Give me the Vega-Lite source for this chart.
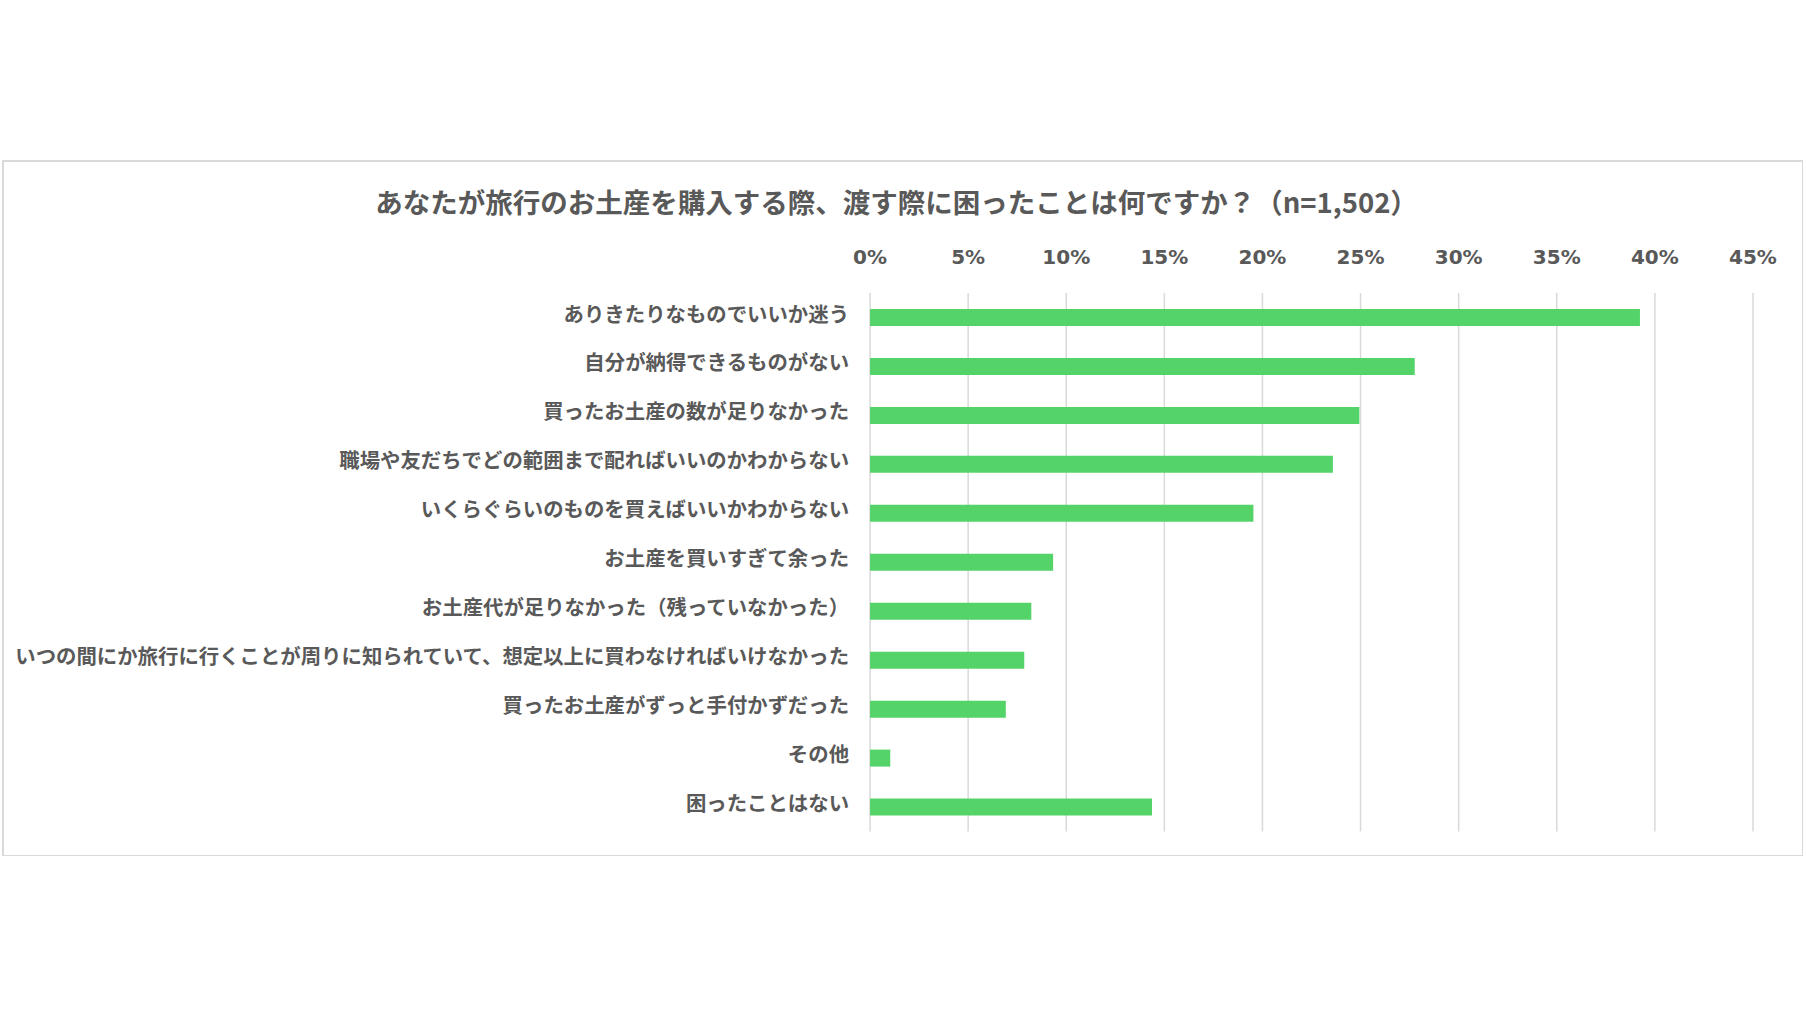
{
  "$schema": "https://vega.github.io/schema/vega-lite/v6.json",
  "autosize": {"type": "none"},
  "padding": {"left": 3, "top": 161, "right": 0, "bottom": 0},
  "width": 1800,
  "height": 695,
  "background": "white",
  "datasets": {
    "items": [
      {"label": "ありきたりなものでいいか迷う", "rank": 1, "pct": 0.3924},
      {"label": "自分が納得できるものがない", "rank": 2, "pct": 0.2776},
      {"label": "買ったお土産の数が足りなかった", "rank": 3, "pct": 0.2494},
      {"label": "職場や友だちでどの範囲まで配ればいいのかわからない", "rank": 4, "pct": 0.2359},
      {"label": "いくらぐらいのものを買えばいいかわからない", "rank": 5, "pct": 0.1954},
      {"label": "お土産を買いすぎて余った", "rank": 6, "pct": 0.0933},
      {"label": "お土産代が足りなかった（残っていなかった）", "rank": 7, "pct": 0.0822},
      {"label": "いつの間にか旅行に行くことが周りに知られていて、想定以上に買わなければいけなかった", "rank": 8, "pct": 0.0786},
      {"label": "買ったお土産がずっと手付かずだった", "rank": 9, "pct": 0.0692},
      {"label": "その他", "rank": 10, "pct": 0.0103},
      {"label": "困ったことはない", "rank": 11, "pct": 0.1437}
    ],
    "ticks": [
      {"v": 0}, {"v": 0.05}, {"v": 0.1}, {"v": 0.15}, {"v": 0.2},
      {"v": 0.25}, {"v": 0.3}, {"v": 0.35}, {"v": 0.4}, {"v": 0.45}
    ],
    "heading": [
      {"text": "あなたが旅行のお土産を購入する際、渡す際に困ったことは何ですか？（n=1,502）", "x": 0.0135, "y": -1.3}
    ]
  },
  "layer": [
    {
      "data": {"name": "ticks"},
      "mark": {"type": "rule", "color": "#d9d9d9", "strokeWidth": 1.5},
      "encoding": {
        "x": {"field": "v", "type": "quantitative", "axis": null,
              "scale": {"domain": [-0.4419, 0.4755], "nice": false, "zero": false, "padding": 0}},
        "y": {"datum": 0.5, "type": "quantitative", "axis": null,
              "scale": {"domain": [-2.197, 12.0], "nice": false, "zero": false, "reverse": true, "padding": 0}},
        "y2": {"datum": 11.5}
      }
    },
    {
      "data": {"name": "ticks"},
      "mark": {"type": "text", "font": "DejaVu Sans", "fontWeight": "bold", "fontSize": 20,
               "color": "#595959", "baseline": "middle", "align": "center"},
      "encoding": {
        "x": {"field": "v", "type": "quantitative", "axis": null},
        "y": {"datum": -0.215, "type": "quantitative", "axis": null},
        "text": {"field": "v", "type": "quantitative", "format": ".0%"}
      }
    },
    {
      "data": {"name": "items"},
      "mark": {"type": "bar", "orient": "horizontal", "size": 17, "color": "#54d468"},
      "encoding": {
        "x": {"field": "pct", "type": "quantitative", "axis": null},
        "x2": {"datum": 0},
        "y": {"field": "rank", "type": "quantitative", "axis": null}
      }
    },
    {
      "data": {"name": "items"},
      "mark": {"type": "text", "font": "Noto Sans CJK JP", "fontWeight": "bold", "fontSize": 20.4,
               "color": "#595959", "baseline": "middle", "align": "right", "dx": -21, "dy": -2},
      "encoding": {
        "x": {"datum": 0, "type": "quantitative", "axis": null},
        "y": {"field": "rank", "type": "quantitative", "axis": null},
        "text": {"field": "label", "type": "nominal"}
      }
    },
    {
      "data": {"name": "heading"},
      "mark": {"type": "text", "font": "Noto Sans CJK JP", "fontWeight": "bold", "fontSize": 27.5,
               "color": "#595959", "baseline": "middle", "align": "center"},
      "encoding": {
        "x": {"field": "x", "type": "quantitative", "axis": null},
        "y": {"field": "y", "type": "quantitative", "axis": null},
        "text": {"field": "text", "type": "nominal"}
      }
    }
  ],
  "config": {
    "view": {"stroke": "#d9d9d9", "strokeWidth": 2}
  }
}
